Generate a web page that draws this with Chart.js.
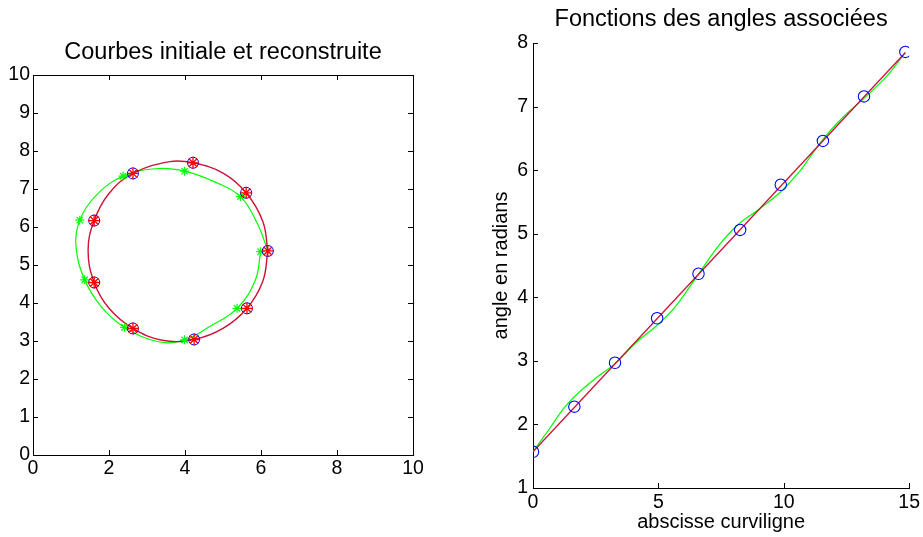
<!DOCTYPE html>
<html>
<head>
<meta charset="utf-8">
<script src="https://cdn.jsdelivr.net/npm/chart.js@4.4.0/dist/chart.umd.min.js"></script>
<style>
  body { margin: 0; background: #fff; }
  #wrap { position: relative; width: 923px; height: 537px; }
  #leftChart { position: absolute; left: 0; top: 0; }
  #rightChart { position: absolute; left: 460px; top: 0; }
</style>
</head>
<body>
<div id="wrap">
  <canvas id="leftChart" width="460" height="537"></canvas>
  <canvas id="rightChart" width="463" height="537"></canvas>
</div>
<script>
// Left plot: initial curve (nodes) and reconstructed curve
const nodeX = [6.18, 5.61, 4.21, 2.63, 1.61, 1.61, 2.63, 4.24, 5.63];
const nodeY = [5.37, 6.90, 7.69, 7.41, 6.17, 4.54, 3.33, 3.04, 3.86];

const initCurveX = [6.18, 6.05, 5.61, 5.00, 4.21, 3.60, 2.63, 2.00, 1.61, 1.45, 1.61, 2.00, 2.63, 3.40, 4.24, 5.00, 5.63, 6.05, 6.18];
const initCurveY = [5.37, 6.14, 6.90, 7.42, 7.69, 7.72, 7.41, 6.88, 6.17, 5.39, 4.54, 3.86, 3.33, 3.02, 3.04, 3.33, 3.86, 4.58, 5.37];

const recCurveX = [6.18, 5.90, 5.46, 4.75, 3.99, 3.30, 2.37, 1.65, 1.23, 1.13, 1.36, 1.80, 2.41, 3.30, 3.99, 4.65, 5.37, 5.85, 5.99];
const recCurveY = [5.38, 6.10, 6.80, 7.20, 7.47, 7.54, 7.34, 6.82, 6.18, 5.50, 4.61, 3.90, 3.36, 2.98, 3.03, 3.38, 3.86, 4.60, 5.35];

const recStarX = [5.46, 3.99, 2.37, 1.23, 1.36, 2.41, 3.99, 5.37, 5.99];
const recStarY = [6.80, 7.47, 7.34, 6.18, 4.61, 3.36, 3.03, 3.86, 5.35];

// Right plot: angle functions
const sNodes = [0, 1.65, 3.27, 4.95, 6.60, 8.26, 9.88, 11.56, 13.20, 14.85];
const angleNodes = [1.57, 2.28, 2.97, 3.67, 4.37, 5.06, 5.77, 6.46, 7.16, 7.86];

const sLine = [0, 14.85];
const angleLine = [1.57, 7.85];

const sSpline = [0, 0.67, 1.20, 1.66, 2.51, 3.28, 4.09, 4.95, 5.67, 6.59, 7.38, 8.17, 8.96, 9.88, 10.67, 11.53, 12.38, 13.20, 14.09, 14.85];
const angleSpline = [1.57, 1.94, 2.24, 2.44, 2.73, 2.96, 3.28, 3.56, 3.85, 4.36, 4.80, 5.14, 5.37, 5.66, 6.00, 6.47, 6.84, 7.13, 7.47, 7.85];

const xTicksLeft = [0, 2, 4, 6, 8, 10];
const yTicksLeft = [0, 1, 2, 3, 4, 5, 6, 7, 8, 9, 10];
const xTicksRight = [0, 5, 10, 15];
const yTicksRight = [1, 2, 3, 4, 5, 6, 7, 8];

const FONT = "'Liberation Sans', Arial, sans-serif";
const RED = "rgb(205, 18, 55)";
const GREEN = "#00ff00";
const BLUE = "#0000ff";

const pts = (xs, ys) => xs.map((x, i) => ({ x: x, y: ys[i] }));

// ticks pointing into the plot, and optional full box
const inwardTicks = {
  id: "inwardTicks",
  afterDraw(chart, args, opts) {
    const { ctx, chartArea: a, scales } = chart;
    const len = 5;
    const al = (v) => Math.round(v) + 0.5;
    ctx.save();
    ctx.strokeStyle = "#000";
    ctx.lineWidth = 1;
    ctx.beginPath();
    scales.x.ticks.forEach((t) => {
      const px = al(scales.x.getPixelForValue(t.value));
      ctx.moveTo(px, a.bottom);
      ctx.lineTo(px, a.bottom - len);
      if (opts.box) {
        ctx.moveTo(px, a.top);
        ctx.lineTo(px, a.top + len);
      }
    });
    scales.y.ticks.forEach((t) => {
      const py = al(scales.y.getPixelForValue(t.value));
      ctx.moveTo(a.left, py);
      ctx.lineTo(a.left + len, py);
      if (opts.box) {
        ctx.moveTo(a.right, py);
        ctx.lineTo(a.right - len, py);
      }
    });
    if (opts.box) {
      ctx.moveTo(al(a.left), al(a.top));
      ctx.lineTo(al(a.right), al(a.top));
      ctx.lineTo(al(a.right), al(a.bottom));
    }
    ctx.stroke();
    ctx.restore();
  },
};

// title centred over the plot area
const plotTitle = {
  id: "plotTitle",
  afterDraw(chart, args, opts) {
    const { ctx, chartArea: a } = chart;
    ctx.save();
    ctx.font = "23.5px " + FONT;
    ctx.fillStyle = "#000";
    ctx.textAlign = "center";
    ctx.textBaseline = "middle";
    ctx.fillText(opts.text, (a.left + a.right) / 2, opts.y);
    ctx.restore();
  },
};

const tickFont = { family: FONT, size: 19.5 };
const axisGrid = { display: false, drawTicks: false, tickLength: 0 };
const axisBorder = { display: true, color: "#000", width: 1 };

// Courbes initiale et reconstruite
new Chart(document.getElementById("leftChart").getContext("2d"), {
  type: "scatter",
  data: {
    datasets: [
      {
        data: pts(nodeX, nodeY),
        pointStyle: "star",
        pointRadius: 6,
        borderColor: "#ff0000",
        borderWidth: 1.3,
      },
      {
        data: pts(nodeX, nodeY),
        pointStyle: "circle",
        pointRadius: 5.5,
        borderColor: BLUE,
        backgroundColor: "rgba(0,0,0,0)",
        borderWidth: 1,
      },
      {
        data: pts(recStarX, recStarY),
        pointStyle: "star",
        pointRadius: 4.5,
        borderColor: GREEN,
        borderWidth: 1.2,
      },
      {
        data: pts(initCurveX, initCurveY),
        showLine: true,
        tension: 0.4,
        pointRadius: 0,
        borderColor: RED,
        borderWidth: 1.4,
      },
      {
        data: pts(recCurveX, recCurveY),
        showLine: true,
        tension: 0.4,
        pointRadius: 0,
        borderColor: GREEN,
        borderWidth: 1.2,
      },
    ],
  },
  options: {
    responsive: false,
    animation: false,
    layout: { padding: { left: 0, right: 47, top: 75, bottom: 0 } },
    plugins: {
      legend: { display: false },
      tooltip: { enabled: false },
      title: { display: false },
      plotTitle: { text: "Courbes initiale et reconstruite", y: 53 },
      inwardTicks: { box: true },
    },
    scales: {
      x: {
        type: "linear",
        min: 0,
        max: 10,
        afterBuildTicks: (s) => { s.ticks = xTicksLeft.map((v) => ({ value: v })); },
        afterFit: (s) => { s.height = 82; },
        grid: axisGrid,
        border: axisBorder,
        ticks: { color: "#000", font: tickFont, padding: 2, maxRotation: 0 },
      },
      y: {
        type: "linear",
        min: 0,
        max: 10,
        afterBuildTicks: (s) => { s.ticks = yTicksLeft.map((v) => ({ value: v })); },
        afterFit: (s) => { s.width = 33; },
        grid: axisGrid,
        border: axisBorder,
        ticks: { color: "#000", font: tickFont, padding: 3 },
      },
    },
  },
  plugins: [inwardTicks, plotTitle],
});

// Fonctions des angles associées
new Chart(document.getElementById("rightChart").getContext("2d"), {
  type: "scatter",
  data: {
    datasets: [
      {
        data: pts(sNodes, angleNodes),
        pointStyle: "circle",
        pointRadius: 5.7,
        borderColor: BLUE,
        backgroundColor: "rgba(0,0,0,0)",
        borderWidth: 1.1,
      },
      {
        data: pts(sLine, angleLine),
        showLine: true,
        pointRadius: 0,
        borderColor: RED,
        borderWidth: 1.3,
      },
      {
        data: pts(sSpline, angleSpline),
        showLine: true,
        cubicInterpolationMode: "monotone",
        pointRadius: 0,
        borderColor: GREEN,
        borderWidth: 1.2,
      },
    ],
  },
  options: {
    responsive: false,
    animation: false,
    layout: { padding: { left: 0, right: 10, top: 43, bottom: 0 } },
    plugins: {
      legend: { display: false },
      tooltip: { enabled: false },
      title: { display: false },
      plotTitle: { text: "Fonctions des angles associées", y: 20 },
      inwardTicks: { box: false },
    },
    scales: {
      x: {
        type: "linear",
        min: 0,
        max: 15,
        afterBuildTicks: (s) => { s.ticks = xTicksRight.map((v) => ({ value: v })); },
        afterFit: (s) => { s.height = 49; },
        grid: axisGrid,
        border: axisBorder,
        ticks: { color: "#000", font: tickFont, padding: 3, maxRotation: 0 },
        title: {
          display: true,
          text: "abscisse curviligne",
          color: "#000",
          font: { family: FONT, size: 20 },
          padding: { top: 0, bottom: 3 },
        },
      },
      y: {
        type: "linear",
        min: 1,
        max: 8,
        afterBuildTicks: (s) => { s.ticks = yTicksRight.map((v) => ({ value: v })); },
        afterFit: (s) => { s.width = 73; },
        grid: axisGrid,
        border: axisBorder,
        ticks: { color: "#000", font: tickFont, padding: 5 },
        title: {
          display: true,
          text: "angle en radians",
          color: "#000",
          font: { family: FONT, size: 20 },
          padding: { top: 29, bottom: 0 },
        },
      },
    },
  },
  plugins: [inwardTicks, plotTitle],
});
</script>
</body>
</html>
